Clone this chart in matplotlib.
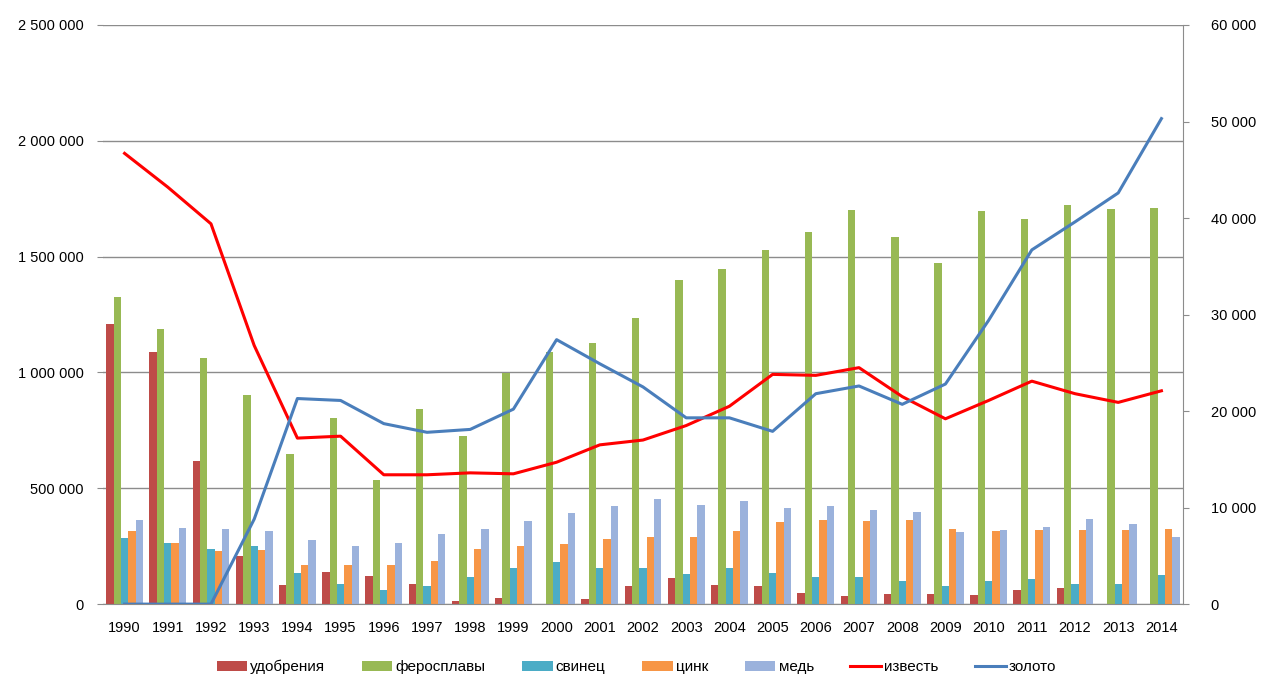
import numpy as np
import matplotlib
matplotlib.use('Agg')
import matplotlib.pyplot as plt
from matplotlib.ticker import FuncFormatter
from matplotlib.patches import Patch
from matplotlib.lines import Line2D

plt.rcParams['font.family'] = ['Liberation Sans', 'DejaVu Sans']

years = [str(y) for y in range(1990, 2015)]

# bars, left axis
udobreniya = [1209000, 1089000, 619000, 207000, 82000, 138000, 121000, 86000, 14000, 25000,
              0, 20000, 78000, 111000, 82000, 78000, 49000, 36000, 44000, 44000,
              40000, 63000, 68000, 0, 0]
ferosplavy = [1325000, 1187000, 1061000, 904000, 649000, 805000, 534000, 842000, 725000, 999000,
              1089000, 1128000, 1234000, 1399000, 1447000, 1529000, 1606000, 1701000, 1585000, 1472000,
              1697000, 1662000, 1723000, 1706000, 1710000]
svinets = [286000, 262000, 240000, 253000, 133000, 86000, 63000, 78000, 115000, 158000,
           181000, 158000, 158000, 130000, 154000, 135000, 115000, 115000, 101000, 78000,
           101000, 109000, 86000, 86000, 124000]
tsink = [316000, 262000, 230000, 233000, 171000, 167000, 167000, 186000, 240000, 249000,
         258000, 279000, 288000, 291000, 316000, 355000, 363000, 358000, 363000, 325000,
         316000, 320000, 320000, 320000, 324000]
med = [363000, 328000, 324000, 315000, 276000, 252000, 262000, 301000, 325000, 358000,
       392000, 423000, 452000, 429000, 443000, 415000, 423000, 406000, 396000, 311000,
       320000, 334000, 367000, 348000, 291000]

# lines, right axis
izvest = [46700, 43200, 39400, 26800, 17200, 17400, 13400, 13400, 13600, 13500,
          14700, 16500, 17000, 18500, 20500, 23800, 23700, 24500, 21500, 19200,
          21100, 23100, 21800, 20900, 22100]
zoloto = [0, 0, 0, 8800, 21300, 21100, 18700, 17800, 18100, 20200,
          27400, 24900, 22500, 19300, 19300, 17900, 21800, 22600, 20700, 22800,
          29400, 36700, 39600, 42600, 50300]

bar_series = [
    ('удобрения', udobreniya, '#BE4B48'),
    ('феросплавы', ferosplavy, '#98B954'),
    ('свинец', svinets, '#4BACC6'),
    ('цинк', tsink, '#F79646'),
    ('медь', med, '#9BB2DC'),
]

fig = plt.figure(figsize=(12.65, 6.75), dpi=100)
ax = fig.add_axes([0.0814, 0.105, 0.8538, 0.858])
x = np.arange(len(years))
w = 0.17
for i, (name, vals, col) in enumerate(bar_series):
    ax.bar(x + (i - 2) * w, vals, width=w, color=col, zorder=2)

ax.set_xlim(-0.5, len(years) - 0.5)
ax.set_ylim(0, 2500000)
ax.set_yticks(range(0, 2500001, 500000))
fmt = FuncFormatter(lambda v, p: f'{int(v):,}'.replace(',', ' '))
ax.yaxis.set_major_formatter(fmt)
ax.set_xticks(x)
ax.set_xticklabels(years)
ax.grid(axis='y', color='#8C8C8C', linewidth=1, zorder=0)
ax.tick_params(axis='x', length=0, pad=12, labelsize=10.5)
ax.tick_params(axis='y', length=4, pad=10, labelsize=10.5, color='#8C8C8C')
for s in ['top', 'left', 'right']:
    ax.spines[s].set_visible(False)
ax.spines['bottom'].set_color('#8C8C8C')

ax2 = ax.twinx()
ax2.plot(x, izvest, color='#FF0000', linewidth=2.2)
ax2.plot(x, zoloto, color='#4A7EBB', linewidth=2.2)
ax2.set_ylim(0, 60000)
ax2.set_yticks(range(0, 60001, 10000))
ax2.yaxis.set_major_formatter(fmt)
ax2.tick_params(axis='y', length=4, pad=16, labelsize=10.5, color='#8C8C8C')
for s in ['top', 'left', 'bottom']:
    ax2.spines[s].set_visible(False)
ax2.spines['right'].set_color('#8C8C8C')

handles = [Patch(facecolor=c, label=n) for n, v, c in bar_series]
handles += [Line2D([0], [0], color='#FF0000', lw=2.2, label='известь'),
            Line2D([0], [0], color='#4A7EBB', lw=2.2, label='золото')]
fig.legend(handles=handles, loc='center', bbox_to_anchor=(0.503, 0.012), ncol=7,
           frameon=False, fontsize=11, handlelength=2.0, handleheight=0.6,
           handletextpad=0.2, columnspacing=2.4)

fig.savefig('out.png', dpi=100)
